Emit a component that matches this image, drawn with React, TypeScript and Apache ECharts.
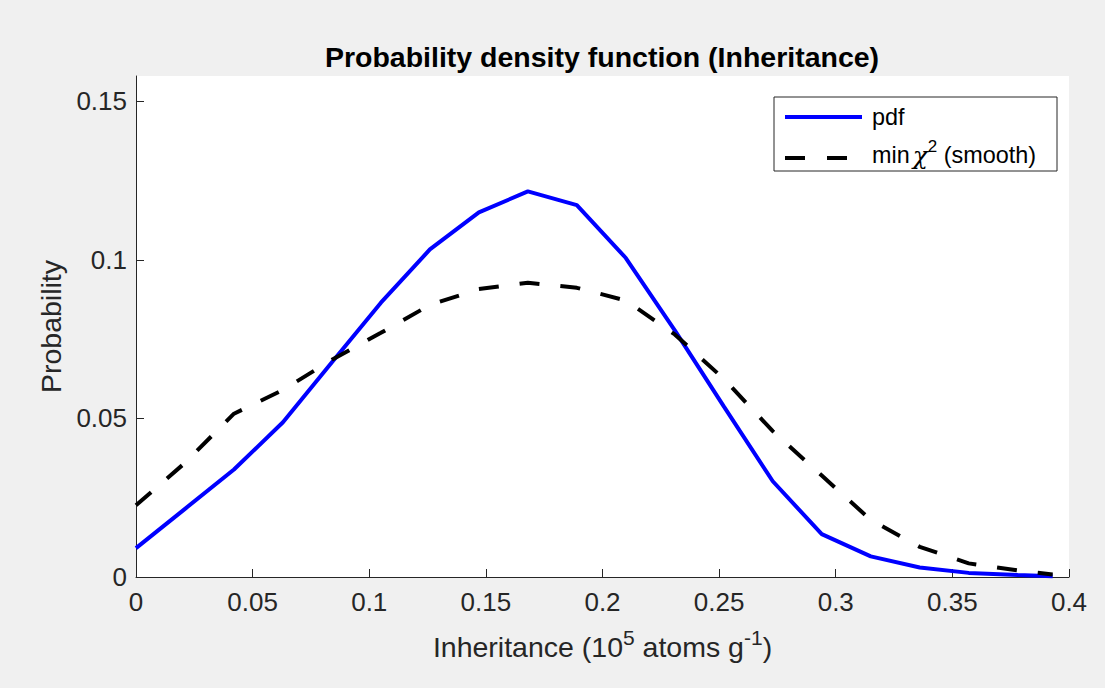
import React, { useEffect, useRef } from "react";
import * as echarts from "echarts";

const xValues = [0, 0.021, 0.042, 0.063, 0.084, 0.105, 0.126, 0.147, 0.168, 0.189, 0.21, 0.231, 0.252, 0.273, 0.294, 0.315, 0.336, 0.357, 0.378, 0.393];
const pdfValues = [0.0091, 0.0215, 0.0339, 0.0488, 0.0677, 0.0865, 0.1033, 0.115, 0.1216, 0.1173, 0.1006, 0.0778, 0.0538, 0.0302, 0.0135, 0.0065, 0.003, 0.0013, 0.0006, 0.0002];
const smoothValues = [0.0226, 0.036, 0.0515, 0.059, 0.0685, 0.077, 0.0858, 0.0908, 0.0928, 0.0912, 0.0872, 0.0765, 0.0625, 0.046, 0.032, 0.018, 0.0095, 0.0043, 0.0021, 0.0008];
const xTicks = [0, 0.05, 0.1, 0.15, 0.2, 0.25, 0.3, 0.35, 0.4];
const yTicks = [0, 0.05, 0.1, 0.15];

const FONT = "'Liberation Sans', Arial, Helvetica, sans-serif";
const AX = "#262626";

export default function App() {
  const ref = useRef<HTMLDivElement>(null);
  useEffect(() => {
    document.body.style.margin = "0";
    const chart = echarts.init(ref.current!, null, { renderer: "svg" });
    chart.setOption({
      animation: false,
      backgroundColor: "#f0f0f0",
      textStyle: { fontFamily: FONT },
      grid: { left: 136, right: 36, top: 76, bottom: 111, show: true, backgroundColor: "#ffffff", borderWidth: 0 },
      xAxis: {
        type: "value",
        min: 0,
        max: 0.4,
        interval: 0.05,
        axisLine: { show: true, onZero: false, lineStyle: { color: AX, width: 1 } },
        axisTick: { show: true, inside: true, length: 8, customValues: xTicks, lineStyle: { color: AX, width: 1 } },
        axisLabel: { fontSize: 26, color: AX, margin: 12, fontFamily: FONT, customValues: xTicks },
        splitLine: { show: false },
        name: "Inheritance (10{sup|5} atoms g{sup|-1})",
        nameLocation: "middle",
        nameGap: 50,
        nameTextStyle: {
          fontSize: 28.5,
          color: AX,
          fontFamily: FONT,
          lineHeight: 40,
          rich: {
            sup: { fontSize: 21, color: AX, fontFamily: FONT, lineHeight: 22, verticalAlign: "top" },
          },
        },
      },
      yAxis: {
        type: "value",
        min: 0,
        max: 0.158,
        axisLine: { show: true, onZero: false, lineStyle: { color: AX, width: 1 } },
        axisTick: { show: true, inside: true, length: 8, customValues: yTicks, lineStyle: { color: AX, width: 1 } },
        axisLabel: { fontSize: 26, color: AX, margin: 9, fontFamily: FONT, customValues: yTicks },
        splitLine: { show: false },
        name: "Probability",
        nameLocation: "middle",
        nameGap: 70,
        nameRotate: 90,
        nameTextStyle: { fontSize: 28.5, color: AX, fontFamily: FONT },
      },
      series: [
        {
          name: "pdf",
          type: "line",
          data: xValues.map((x, i) => [x, pdfValues[i]]),
          symbol: "none",
          showSymbol: false,
          lineStyle: { color: "#0000ff", width: 4 },
          z: 2,
        },
        {
          name: "min χ2 (smooth)",
          type: "line",
          data: xValues.map((x, i) => [x, smoothValues[i]]),
          symbol: "none",
          showSymbol: false,
          lineStyle: { color: "#000000", width: 4, type: [20, 21], cap: "butt" },
          z: 3,
        },
      ],
      graphic: [
        {
          type: "text",
          x: 602,
          y: 57,
          style: {
            text: "Probability density function (Inheritance)",
            fontSize: 28.5,
            fontWeight: "bold",
            fontFamily: FONT,
            fill: "#000000",
            textAlign: "center",
            textVerticalAlign: "middle",
          },
        },
        {
          type: "rect",
          shape: { x: 774, y: 97, width: 283, height: 74 },
          style: { fill: "#ffffff", stroke: AX, lineWidth: 1 },
          z: 10,
        },
        {
          type: "line",
          shape: { x1: 785, y1: 117, x2: 862, y2: 117 },
          style: { stroke: "#0000ff", lineWidth: 4 },
          z: 11,
        },
        {
          type: "line",
          shape: { x1: 785, y1: 158, x2: 805, y2: 158 },
          style: { stroke: "#000000", lineWidth: 4 },
          z: 11,
        },
        {
          type: "line",
          shape: { x1: 827, y1: 158, x2: 847, y2: 158 },
          style: { stroke: "#000000", lineWidth: 4 },
          z: 11,
        },
        {
          type: "text",
          x: 872,
          y: 117,
          style: {
            text: "pdf",
            fontSize: 23.4,
            fontFamily: FONT,
            fill: "#000000",
            textVerticalAlign: "middle",
          },
          z: 11,
        },
        {
          type: "text",
          x: 872,
          y: 155,
          style: {
            text: "min{chi|χ}{sup|2} (smooth)",
            fontSize: 23.4,
            fontFamily: FONT,
            fill: "#000000",
            textVerticalAlign: "middle",
            lineHeight: 34,
            rich: {
              chi: { fontSize: 25, fontFamily: "'DejaVu Serif', serif", fontStyle: "italic", fill: "#000000", lineHeight: 34, padding: [0, 0, 0, 3] },
              sup: { fontSize: 17, fontFamily: FONT, fill: "#000000", lineHeight: 18, verticalAlign: "top" },
            },
          },
          z: 11,
        },
      ],
    });
    return () => chart.dispose();
  }, []);
  return <div ref={ref} style={{ width: 1105, height: 688, background: "#f0f0f0" }} />;
}
